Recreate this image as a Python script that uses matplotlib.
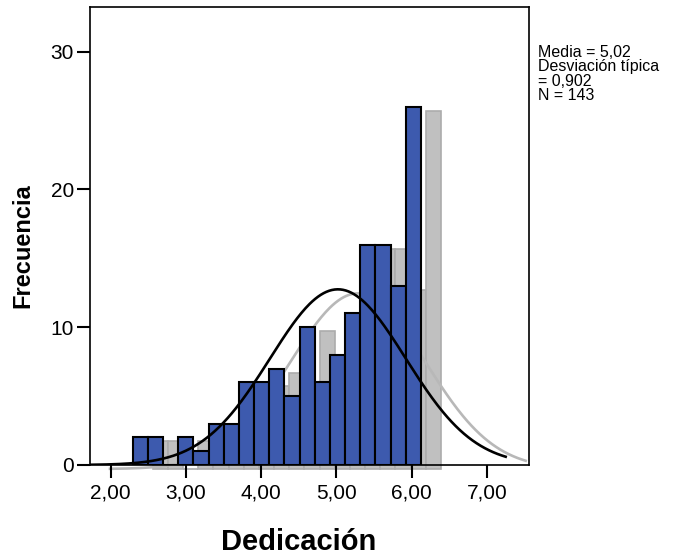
import numpy as np
import matplotlib
matplotlib.use("Agg")
import matplotlib.pyplot as plt
from matplotlib import transforms

# histogram of "Dedicación" (SPSS style, with drop shadow)
counts = [2, 2, 0, 2, 1, 3, 3, 6, 6, 7, 5, 10, 6, 8, 11, 16, 16, 13, 26]
bin_start = 2.293
bin_width = 0.2016
mean = 5.02
sd = 0.902
n = 143
x_ticks = [2, 3, 4, 5, 6, 7]
x_tick_labels = ["2,00", "3,00", "4,00", "5,00", "6,00", "7,00"]
y_ticks = [0, 10, 20, 30]
stats_lines = ["Media = 5,02", "Desviación típica", "= 0,902", "N = 143"]

plt.rcParams['font.family'] = ['Liberation Sans', 'DejaVu Sans']

fig = plt.figure(figsize=(6.83, 5.56), dpi=100)
ax = fig.add_axes([90 / 683, 91 / 556, 439 / 683, 457.7 / 556])

lefts = bin_start + bin_width * np.arange(len(counts))
shadow = transforms.offset_copy(ax.transData, fig=fig, x=14.4, y=-2.9,
                                units='points')

# shadow bars and shadow curve
ax.bar(lefts, counts, width=bin_width, align='edge', color='#c0c0c0',
       edgecolor='#acacac', linewidth=1.2, transform=shadow, zorder=1,
       clip_on=False)

xs = np.linspace(1.725, 7.25, 300)
ys = n * bin_width / (sd * np.sqrt(2 * np.pi)) * np.exp(-0.5 * ((xs - mean) / sd) ** 2)
ax.plot(xs, ys, color='#b8b8b8', linewidth=1.9, transform=shadow, zorder=1.5,
        clip_on=False)

# main bars and normal curve
ax.bar(lefts, counts, width=bin_width, align='edge', color='#3d5aae',
       edgecolor='black', linewidth=1.5, zorder=2)
ax.plot(xs, ys, color='black', linewidth=1.9, zorder=3)

ax.set_xlim(1.725, 7.56)
ax.set_ylim(0, 33.22)
ax.set_xticks(x_ticks)
ax.set_xticklabels(x_tick_labels)
ax.set_yticks(y_ticks)
ax.tick_params(axis='both', length=9.5, width=1.5, labelsize=15)
ax.tick_params(axis='x', pad=4)
ax.tick_params(axis='y', pad=2)
for sp in ax.spines.values():
    sp.set_linewidth(1.2)

fig.text(299 / 683, 6 / 556, "Dedicación", ha='center', va='baseline',
         fontsize=21, fontweight='bold')
fig.text(23 / 683, (556 - 246) / 556, "Frecuencia", ha='center', va='center',
         rotation=90, fontsize=17, fontweight='bold')

for i, line in enumerate(stats_lines):
    fig.text(538 / 683, (556 - 56.7 - 14.6 * i) / 556, line, ha='left',
             va='baseline', fontsize=11.5)

fig.savefig("out.png", dpi=100)
